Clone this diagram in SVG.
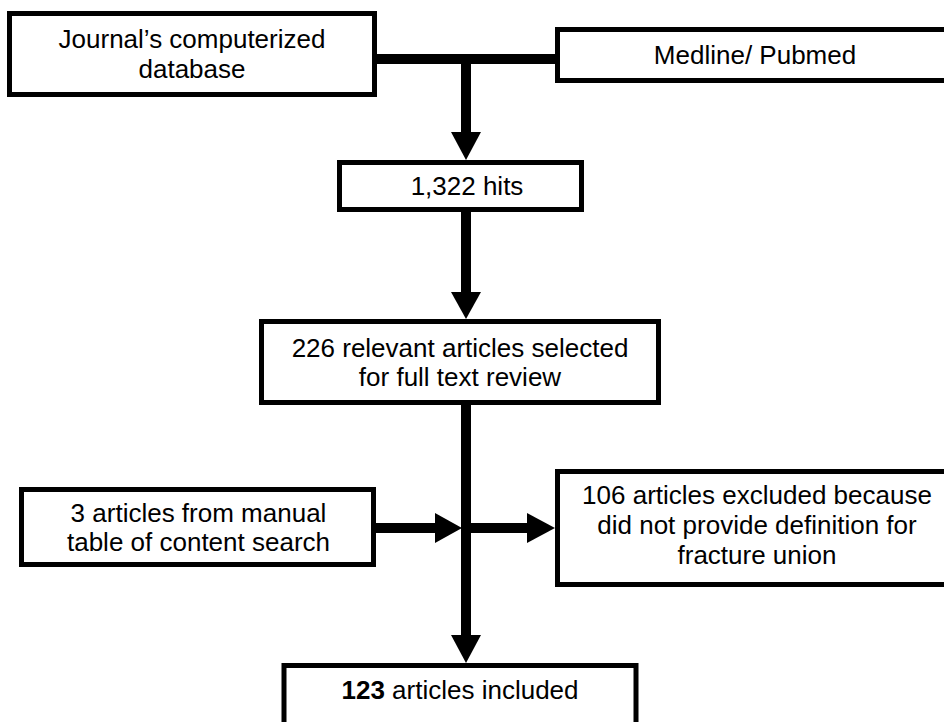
<svg xmlns="http://www.w3.org/2000/svg" width="944" height="722" viewBox="0 0 944 722">
  <style>
    .box { fill: #ffffff; stroke: #000000; stroke-width: 5; }
    .lbl { font-family: "Liberation Sans", Arial, sans-serif; font-size: 26px; fill: #000000; text-anchor: middle; }
    .wire { stroke: #000000; stroke-width: 10; fill: none; }
    .head { fill: #000000; stroke: none; }
  </style>
  <rect width="944" height="722" fill="#ffffff"/>
  <g id="connectors">
    <line class="wire" x1="377" y1="59" x2="555" y2="59"/>
    <line class="wire" x1="466" y1="59" x2="466" y2="134"/>
    <polygon class="head" points="451,132 481,132 466,160"/>
    <line class="wire" x1="466" y1="212" x2="466" y2="294"/>
    <polygon class="head" points="451,292 481,292 466,319"/>
    <line class="wire" x1="466" y1="405" x2="466" y2="637"/>
    <polygon class="head" points="451,635 481,635 466,663"/>
    <line class="wire" x1="376" y1="528" x2="437" y2="528"/>
    <polygon class="head" points="435,513 435,543 462,528"/>
    <line class="wire" x1="466" y1="528" x2="529" y2="528"/>
    <polygon class="head" points="527,513 527,543 555,528"/>
  </g>
  <g id="journal">
    <rect class="box" x="9.5" y="13.5" width="365" height="81"/>
    <text class="lbl" x="192" y="47.5">Journal’s computerized</text>
    <text class="lbl" x="192" y="77.5">database</text>
  </g>
  <g id="medline">
    <rect class="box" x="557.5" y="29.5" width="400" height="51"/>
    <text class="lbl" x="755" y="64">Medline/ Pubmed</text>
  </g>
  <g id="hits">
    <rect class="box" x="339.5" y="162.5" width="242" height="47"/>
    <text class="lbl" x="467" y="195">1,322 hits</text>
  </g>
  <g id="relevant">
    <rect class="box" x="261.5" y="321.5" width="397" height="81"/>
    <text class="lbl" x="460" y="356.5">226 relevant articles selected</text>
    <text class="lbl" x="460" y="385.5">for full text review</text>
  </g>
  <g id="manual">
    <rect class="box" x="21.5" y="489.5" width="352" height="75"/>
    <text class="lbl" x="198.5" y="522">3 articles from manual</text>
    <text class="lbl" x="198.5" y="550.5">table of content search</text>
  </g>
  <g id="excluded">
    <rect class="box" x="557.5" y="471.5" width="400" height="113"/>
    <text class="lbl" x="757" y="504">106 articles excluded because</text>
    <text class="lbl" x="757" y="534">did not provide definition for</text>
    <text class="lbl" x="757" y="564">fracture union</text>
  </g>
  <g id="included">
    <rect class="box" x="284" y="665.5" width="352" height="100"/>
    <text class="lbl" x="460" y="699"><tspan font-weight="bold">123</tspan> articles included</text>
  </g>
</svg>
